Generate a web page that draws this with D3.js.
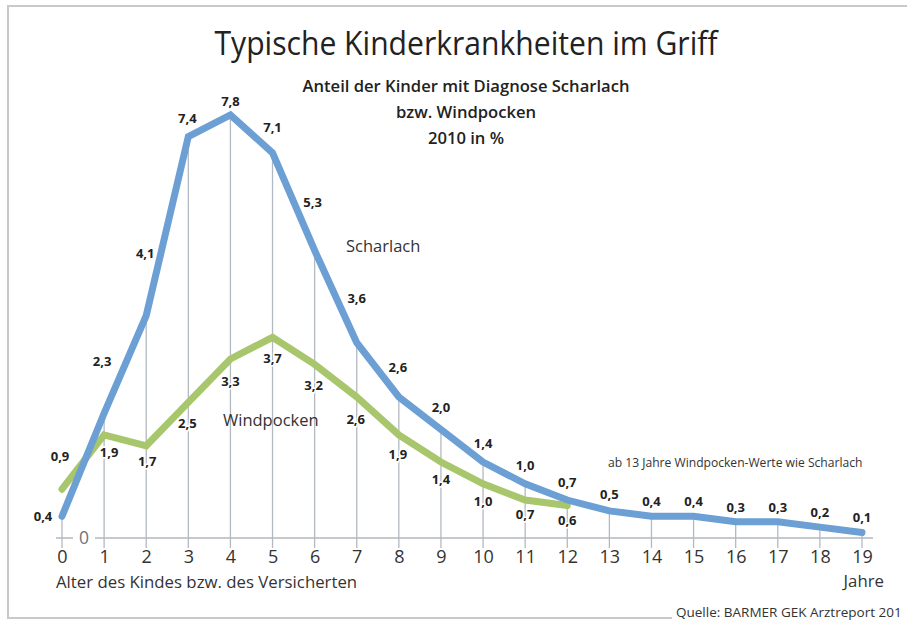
<!DOCTYPE html>
<html>
<head>
<meta charset="utf-8">
<script src="https://cdn.jsdelivr.net/npm/d3@7"></script>
<style>
  body { margin: 0; background: #fff; }
  svg { display: block; font-family: "Open Sans", sans-serif; }
</style>
</head>
<body>
<svg id="svg" width="907" height="623"></svg>
<script>
// Alter in Jahren
const ages = [0, 1, 2, 3, 4, 5, 6, 7, 8, 9, 10, 11, 12, 13, 14, 15, 16, 17, 18, 19];
// Anteil in %
const scharlach = [0.4, 2.3, 4.1, 7.4, 7.8, 7.1, 5.3, 3.6, 2.6, 2.0, 1.4, 1.0, 0.7, 0.5, 0.4, 0.4, 0.3, 0.3, 0.2, 0.1];
const windpocken = [0.9, 1.9, 1.7, 2.5, 3.3, 3.7, 3.2, 2.6, 1.9, 1.4, 1.0, 0.7, 0.6];

// label nudges [dx, dy] from the point
const nudgeScharlach = [[-19, 5], [-2, -47], [-1, -58], [-1, -14], [0, -9], [0, -21], [-2, -43], [0, -40], [-1, -25], [0, -18],
  [0, -14], [0, -14], [0, -13], [0, -12], [0, -10], [0, -10], [0, -10], [0, -10], [0, -10], [0, -11]];
const nudgeWindpocken = [[-2, -28], [5, 22], [1, 20], [-1, 26], [0, 27], [0, 26], [-1, 26], [-1, 27], [-1, 24], [0, 22], [0, 22], [0, 19], [0, 20]];

const BLUE = "#6c9fd3";
const GREEN = "#a8c66c";
const GRID = "#b3b9c0";

const svg = d3.select("#svg");
const fmt = (v) => d3.format(".1f")(v).replace(".", ",");

const x = d3.scaleLinear().domain([0, 19]).range([62, 862]);
const y = d3.scaleLinear().domain([0, 8]).range([538, 104]);

// frame
svg.append("rect")
  .attr("x", 8).attr("y", 6).attr("width", 1000).attr("height", 612)
  .attr("fill", "none").attr("stroke", "#c9c9c9").attr("stroke-width", 2);

// title
svg.append("text")
  .attr("x", 466).attr("y", 55)
  .attr("text-anchor", "middle")
  .attr("font-size", 33)
  .attr("fill", "#222")
  .attr("textLength", 503)
  .attr("lengthAdjust", "spacingAndGlyphs")
  .text("Typische Kinderkrankheiten im Griff");

const sub = ["Anteil der Kinder mit Diagnose Scharlach", "bzw. Windpocken", "2010 in %"];
svg.append("g")
  .selectAll("text")
  .data(sub)
  .join("text")
  .attr("x", 466)
  .attr("y", (d, i) => 92 + i * 26)
  .attr("text-anchor", "middle")
  .attr("font-size", 16.6)
  .attr("font-weight", 600)
  .attr("fill", "#222")
  .text((d) => d);

// vertical grid lines, from the Scharlach line down past the axis
svg.append("g")
  .selectAll("line")
  .data(ages)
  .join("line")
  .attr("x1", (d) => x(d)).attr("x2", (d) => x(d))
  .attr("y1", (d, i) => y(scharlach[i]))
  .attr("y2", y(0) + 10)
  .attr("stroke", GRID)
  .attr("stroke-width", 1.3);

// baseline with the "0" cut-out
svg.append("line")
  .attr("x1", 56).attr("x2", 873)
  .attr("y1", y(0)).attr("y2", y(0))
  .attr("stroke", GRID).attr("stroke-width", 1.5);
svg.append("rect")
  .attr("x", 73).attr("y", y(0) - 10).attr("width", 22).attr("height", 20)
  .attr("fill", "#fff");
svg.append("text")
  .attr("x", 84).attr("y", y(0) + 6)
  .attr("text-anchor", "middle")
  .attr("font-size", 17.5)
  .attr("fill", "#6e747a")
  .text("0");

// x axis labels
const xAxis = svg.append("g")
  .attr("transform", `translate(0,${y(0)})`)
  .call(d3.axisBottom(x).tickValues(ages).tickSize(0).tickPadding(12).tickFormat(d3.format("d")));
xAxis.select(".domain").remove();
xAxis.selectAll("text")
  .attr("font-family", "Open Sans, sans-serif")
  .attr("font-size", 18)
  .attr("fill", "#333");

svg.append("text")
  .attr("x", 56).attr("y", 588)
  .attr("font-size", 16.8)
  .attr("fill", "#333")
  .text("Alter des Kindes bzw. des Versicherten");
svg.append("text")
  .attr("x", 884).attr("y", 587)
  .attr("text-anchor", "end")
  .attr("font-size", 16.8)
  .attr("fill", "#333")
  .text("Jahre");

// lines
const line = d3.line()
  .x((d, i) => x(ages[i]))
  .y((d) => y(d));

svg.append("path")
  .datum(windpocken)
  .attr("d", line)
  .attr("fill", "none")
  .attr("stroke", GREEN)
  .attr("stroke-width", 7)
  .attr("stroke-linecap", "round")
  .attr("stroke-linejoin", "miter");

svg.append("path")
  .datum(scharlach)
  .attr("d", line)
  .attr("fill", "none")
  .attr("stroke", BLUE)
  .attr("stroke-width", 7)
  .attr("stroke-linecap", "round")
  .attr("stroke-linejoin", "miter");

// value labels
function valueLabels(values, nudge) {
  svg.append("g")
    .selectAll("text")
    .data(values)
    .join("text")
    .attr("x", (d, i) => x(ages[i]) + nudge[i][0])
    .attr("y", (d, i) => y(d) + nudge[i][1])
    .attr("text-anchor", "middle")
    .attr("font-size", 13)
    .attr("font-weight", 700)
    .attr("fill", "#222")
    .attr("stroke", "#fff")
    .attr("stroke-width", 3)
    .attr("paint-order", "stroke")
    .text((d) => fmt(d));
}
valueLabels(scharlach, nudgeScharlach);
valueLabels(windpocken, nudgeWindpocken);

// series names
svg.append("text")
  .attr("x", 346).attr("y", 252)
  .attr("font-size", 16.5)
  .attr("fill", "#333")
  .text("Scharlach");
svg.append("text")
  .attr("x", 223).attr("y", 426)
  .attr("font-size", 16.5)
  .attr("fill", "#333")
  .text("Windpocken");

svg.append("text")
  .attr("x", 608).attr("y", 467)
  .attr("font-size", 12.1)
  .attr("fill", "#333")
  .text("ab 13 Jahre Windpocken-Werte wie Scharlach");

// source
svg.append("rect")
  .attr("x", 672).attr("y", 604).attr("width", 240).attr("height", 19)
  .attr("fill", "#fff");
svg.append("text")
  .attr("x", 676).attr("y", 617)
  .attr("font-size", 13.5)
  .attr("fill", "#333")
  .text("Quelle: BARMER GEK Arztreport 201");
</script>
</body>
</html>
